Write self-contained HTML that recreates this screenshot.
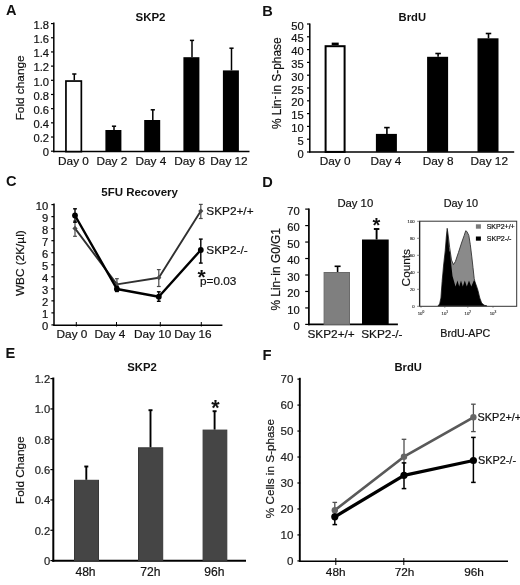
<!DOCTYPE html>
<html><head><meta charset="utf-8"><style>
html,body{margin:0;padding:0;background:#fff;}
svg{display:block;font-family:"Liberation Sans",sans-serif;will-change:transform;}
</style></head><body>
<svg width="520" height="585" viewBox="0 0 520 585">
<rect width="520" height="585" fill="#fff"/>
<text x="5.90" y="14.50" font-size="14.5" text-anchor="start" font-weight="bold" fill="#111" >A</text>
<text x="150.50" y="21.20" font-size="11.5" text-anchor="middle" font-weight="bold" fill="#111" >SKP2</text>
<line x1="53.80" y1="22.60" x2="53.80" y2="152.20" stroke="#000" stroke-width="1.5"/>
<line x1="51.00" y1="151.20" x2="53.80" y2="151.20" stroke="#000" stroke-width="1.2"/>
<text x="49.00" y="156.40" font-size="11.2" text-anchor="end" fill="#111" stroke="#111" stroke-width="0.2" >0</text>
<line x1="51.00" y1="137.02" x2="53.80" y2="137.02" stroke="#000" stroke-width="1.2"/>
<text x="49.00" y="142.22" font-size="11.2" text-anchor="end" fill="#111" stroke="#111" stroke-width="0.2" >0.2</text>
<line x1="51.00" y1="122.84" x2="53.80" y2="122.84" stroke="#000" stroke-width="1.2"/>
<text x="49.00" y="128.04" font-size="11.2" text-anchor="end" fill="#111" stroke="#111" stroke-width="0.2" >0.4</text>
<line x1="51.00" y1="108.66" x2="53.80" y2="108.66" stroke="#000" stroke-width="1.2"/>
<text x="49.00" y="113.86" font-size="11.2" text-anchor="end" fill="#111" stroke="#111" stroke-width="0.2" >0.6</text>
<line x1="51.00" y1="94.48" x2="53.80" y2="94.48" stroke="#000" stroke-width="1.2"/>
<text x="49.00" y="99.68" font-size="11.2" text-anchor="end" fill="#111" stroke="#111" stroke-width="0.2" >0.8</text>
<line x1="51.00" y1="80.30" x2="53.80" y2="80.30" stroke="#000" stroke-width="1.2"/>
<text x="49.00" y="85.50" font-size="11.2" text-anchor="end" fill="#111" stroke="#111" stroke-width="0.2" >1.0</text>
<line x1="51.00" y1="66.12" x2="53.80" y2="66.12" stroke="#000" stroke-width="1.2"/>
<text x="49.00" y="71.32" font-size="11.2" text-anchor="end" fill="#111" stroke="#111" stroke-width="0.2" >1.2</text>
<line x1="51.00" y1="51.94" x2="53.80" y2="51.94" stroke="#000" stroke-width="1.2"/>
<text x="49.00" y="57.14" font-size="11.2" text-anchor="end" fill="#111" stroke="#111" stroke-width="0.2" >1.4</text>
<line x1="51.00" y1="37.76" x2="53.80" y2="37.76" stroke="#000" stroke-width="1.2"/>
<text x="49.00" y="42.96" font-size="11.2" text-anchor="end" fill="#111" stroke="#111" stroke-width="0.2" >1.6</text>
<line x1="51.00" y1="23.58" x2="53.80" y2="23.58" stroke="#000" stroke-width="1.2"/>
<text x="49.00" y="28.78" font-size="11.2" text-anchor="end" fill="#111" stroke="#111" stroke-width="0.2" >1.8</text>
<line x1="53.10" y1="151.60" x2="249.50" y2="151.60" stroke="#000" stroke-width="1.5"/>
<rect x="65.95" y="81.05" width="15.40" height="70.55" fill="#fff" stroke="#000" stroke-width="1.7"/>
<line x1="74.30" y1="74.00" x2="74.30" y2="80.20" stroke="#000" stroke-width="1.5"/>
<line x1="72.20" y1="74.00" x2="76.40" y2="74.00" stroke="#000" stroke-width="1.5"/>
<text x="73.50" y="164.60" font-size="11.8" text-anchor="middle" fill="#111" stroke="#111" stroke-width="0.2" >Day 0</text>
<rect x="105.40" y="130.00" width="16.00" height="21.60" fill="#000" stroke="none" stroke-width="0"/>
<line x1="114.00" y1="126.20" x2="114.00" y2="130.00" stroke="#000" stroke-width="1.5"/>
<line x1="111.90" y1="126.20" x2="116.10" y2="126.20" stroke="#000" stroke-width="1.5"/>
<text x="111.90" y="164.60" font-size="11.8" text-anchor="middle" fill="#111" stroke="#111" stroke-width="0.2" >Day 2</text>
<rect x="144.20" y="120.00" width="16.00" height="31.60" fill="#000" stroke="none" stroke-width="0"/>
<line x1="152.80" y1="109.80" x2="152.80" y2="120.00" stroke="#000" stroke-width="1.5"/>
<line x1="150.70" y1="109.80" x2="154.90" y2="109.80" stroke="#000" stroke-width="1.5"/>
<text x="150.80" y="164.60" font-size="11.8" text-anchor="middle" fill="#111" stroke="#111" stroke-width="0.2" >Day 4</text>
<rect x="183.40" y="57.20" width="16.00" height="94.40" fill="#000" stroke="none" stroke-width="0"/>
<line x1="192.00" y1="40.40" x2="192.00" y2="57.20" stroke="#000" stroke-width="1.5"/>
<line x1="189.90" y1="40.40" x2="194.10" y2="40.40" stroke="#000" stroke-width="1.5"/>
<text x="189.60" y="164.60" font-size="11.8" text-anchor="middle" fill="#111" stroke="#111" stroke-width="0.2" >Day 8</text>
<rect x="222.90" y="70.40" width="16.00" height="81.20" fill="#000" stroke="none" stroke-width="0"/>
<line x1="231.50" y1="48.20" x2="231.50" y2="70.40" stroke="#000" stroke-width="1.5"/>
<line x1="229.40" y1="48.20" x2="233.60" y2="48.20" stroke="#000" stroke-width="1.5"/>
<text x="229.00" y="164.60" font-size="11.8" text-anchor="middle" fill="#111" stroke="#111" stroke-width="0.2" >Day 12</text>
<text transform="translate(23.50,87.90) rotate(-90)" x="0" y="0" font-size="11.8" text-anchor="middle" fill="#111" stroke="#111" stroke-width="0.2">Fold change</text>
<text x="262.20" y="15.60" font-size="14.6" text-anchor="start" font-weight="bold" fill="#111" >B</text>
<text x="412.30" y="20.60" font-size="11.2" text-anchor="middle" font-weight="bold" fill="#111" >BrdU</text>
<line x1="309.80" y1="23.60" x2="309.80" y2="152.60" stroke="#000" stroke-width="1.5"/>
<line x1="307.00" y1="152.00" x2="309.80" y2="152.00" stroke="#000" stroke-width="1.2"/>
<text x="303.80" y="157.50" font-size="11.2" text-anchor="end" fill="#111" stroke="#111" stroke-width="0.2" >0</text>
<line x1="307.00" y1="139.20" x2="309.80" y2="139.20" stroke="#000" stroke-width="1.2"/>
<text x="303.80" y="144.70" font-size="11.2" text-anchor="end" fill="#111" stroke="#111" stroke-width="0.2" >5</text>
<line x1="307.00" y1="126.40" x2="309.80" y2="126.40" stroke="#000" stroke-width="1.2"/>
<text x="303.80" y="131.90" font-size="11.2" text-anchor="end" fill="#111" stroke="#111" stroke-width="0.2" >10</text>
<line x1="307.00" y1="113.60" x2="309.80" y2="113.60" stroke="#000" stroke-width="1.2"/>
<text x="303.80" y="119.10" font-size="11.2" text-anchor="end" fill="#111" stroke="#111" stroke-width="0.2" >15</text>
<line x1="307.00" y1="100.80" x2="309.80" y2="100.80" stroke="#000" stroke-width="1.2"/>
<text x="303.80" y="106.30" font-size="11.2" text-anchor="end" fill="#111" stroke="#111" stroke-width="0.2" >20</text>
<line x1="307.00" y1="88.00" x2="309.80" y2="88.00" stroke="#000" stroke-width="1.2"/>
<text x="303.80" y="93.50" font-size="11.2" text-anchor="end" fill="#111" stroke="#111" stroke-width="0.2" >25</text>
<line x1="307.00" y1="75.20" x2="309.80" y2="75.20" stroke="#000" stroke-width="1.2"/>
<text x="303.80" y="80.70" font-size="11.2" text-anchor="end" fill="#111" stroke="#111" stroke-width="0.2" >30</text>
<line x1="307.00" y1="62.40" x2="309.80" y2="62.40" stroke="#000" stroke-width="1.2"/>
<text x="303.80" y="67.90" font-size="11.2" text-anchor="end" fill="#111" stroke="#111" stroke-width="0.2" >35</text>
<line x1="307.00" y1="49.60" x2="309.80" y2="49.60" stroke="#000" stroke-width="1.2"/>
<text x="303.80" y="55.10" font-size="11.2" text-anchor="end" fill="#111" stroke="#111" stroke-width="0.2" >40</text>
<line x1="307.00" y1="36.80" x2="309.80" y2="36.80" stroke="#000" stroke-width="1.2"/>
<text x="303.80" y="42.30" font-size="11.2" text-anchor="end" fill="#111" stroke="#111" stroke-width="0.2" >45</text>
<line x1="307.00" y1="24.00" x2="309.80" y2="24.00" stroke="#000" stroke-width="1.2"/>
<text x="303.80" y="29.50" font-size="11.2" text-anchor="end" fill="#111" stroke="#111" stroke-width="0.2" >50</text>
<line x1="309.10" y1="151.90" x2="514.20" y2="151.90" stroke="#000" stroke-width="1.5"/>
<rect x="325.60" y="46.20" width="19.00" height="105.70" fill="#fff" stroke="#000" stroke-width="2.0"/>
<rect x="331.70" y="42.60" width="7.00" height="2.60" fill="#000" stroke="none" stroke-width="0"/>
<text x="335.20" y="164.75" font-size="11.8" text-anchor="middle" fill="#111" stroke="#111" stroke-width="0.2" >Day 0</text>
<rect x="375.90" y="133.90" width="21.00" height="18.00" fill="#000" stroke="none" stroke-width="0"/>
<line x1="386.90" y1="127.60" x2="386.90" y2="133.90" stroke="#000" stroke-width="1.6"/>
<line x1="384.15" y1="127.60" x2="389.65" y2="127.60" stroke="#000" stroke-width="1.6"/>
<text x="386.00" y="164.75" font-size="11.8" text-anchor="middle" fill="#111" stroke="#111" stroke-width="0.2" >Day 4</text>
<rect x="427.10" y="56.80" width="21.00" height="95.10" fill="#000" stroke="none" stroke-width="0"/>
<line x1="438.10" y1="53.50" x2="438.10" y2="56.80" stroke="#000" stroke-width="1.6"/>
<line x1="435.35" y1="53.50" x2="440.85" y2="53.50" stroke="#000" stroke-width="1.6"/>
<text x="438.20" y="164.75" font-size="11.8" text-anchor="middle" fill="#111" stroke="#111" stroke-width="0.2" >Day 8</text>
<rect x="477.50" y="38.30" width="21.00" height="113.60" fill="#000" stroke="none" stroke-width="0"/>
<line x1="488.50" y1="33.50" x2="488.50" y2="38.30" stroke="#000" stroke-width="1.6"/>
<line x1="485.75" y1="33.50" x2="491.25" y2="33.50" stroke="#000" stroke-width="1.6"/>
<text x="489.30" y="164.75" font-size="11.8" text-anchor="middle" fill="#111" stroke="#111" stroke-width="0.2" >Day 12</text>
<text transform="translate(280.60,83.20) rotate(-90)" x="0" y="0" font-size="11.9" text-anchor="middle" fill="#111" stroke="#111" stroke-width="0.2">% Lin<tspan font-size="10.5" dy="-2.2">-</tspan><tspan dy="2.2" dx="1.6">in S-phase</tspan></text>
<text x="6.00" y="185.60" font-size="14.6" text-anchor="start" font-weight="bold" fill="#111" >C</text>
<text x="139.60" y="196.30" font-size="11.5" text-anchor="middle" font-weight="bold" fill="#111" >5FU Recovery</text>
<line x1="54.00" y1="203.60" x2="54.00" y2="325.80" stroke="#000" stroke-width="1.5"/>
<line x1="51.40" y1="324.90" x2="54.00" y2="324.90" stroke="#000" stroke-width="1.2"/>
<text x="48.30" y="330.20" font-size="11.2" text-anchor="end" fill="#111" stroke="#111" stroke-width="0.2" >0</text>
<line x1="51.40" y1="312.87" x2="54.00" y2="312.87" stroke="#000" stroke-width="1.2"/>
<text x="48.30" y="318.17" font-size="11.2" text-anchor="end" fill="#111" stroke="#111" stroke-width="0.2" >1</text>
<line x1="51.40" y1="300.84" x2="54.00" y2="300.84" stroke="#000" stroke-width="1.2"/>
<text x="48.30" y="306.14" font-size="11.2" text-anchor="end" fill="#111" stroke="#111" stroke-width="0.2" >2</text>
<line x1="51.40" y1="288.81" x2="54.00" y2="288.81" stroke="#000" stroke-width="1.2"/>
<text x="48.30" y="294.11" font-size="11.2" text-anchor="end" fill="#111" stroke="#111" stroke-width="0.2" >3</text>
<line x1="51.40" y1="276.78" x2="54.00" y2="276.78" stroke="#000" stroke-width="1.2"/>
<text x="48.30" y="282.08" font-size="11.2" text-anchor="end" fill="#111" stroke="#111" stroke-width="0.2" >4</text>
<line x1="51.40" y1="264.75" x2="54.00" y2="264.75" stroke="#000" stroke-width="1.2"/>
<text x="48.30" y="270.05" font-size="11.2" text-anchor="end" fill="#111" stroke="#111" stroke-width="0.2" >5</text>
<line x1="51.40" y1="252.72" x2="54.00" y2="252.72" stroke="#000" stroke-width="1.2"/>
<text x="48.30" y="258.02" font-size="11.2" text-anchor="end" fill="#111" stroke="#111" stroke-width="0.2" >6</text>
<line x1="51.40" y1="240.69" x2="54.00" y2="240.69" stroke="#000" stroke-width="1.2"/>
<text x="48.30" y="245.99" font-size="11.2" text-anchor="end" fill="#111" stroke="#111" stroke-width="0.2" >7</text>
<line x1="51.40" y1="228.66" x2="54.00" y2="228.66" stroke="#000" stroke-width="1.2"/>
<text x="48.30" y="233.96" font-size="11.2" text-anchor="end" fill="#111" stroke="#111" stroke-width="0.2" >8</text>
<line x1="51.40" y1="216.63" x2="54.00" y2="216.63" stroke="#000" stroke-width="1.2"/>
<text x="48.30" y="221.93" font-size="11.2" text-anchor="end" fill="#111" stroke="#111" stroke-width="0.2" >9</text>
<line x1="51.40" y1="204.60" x2="54.00" y2="204.60" stroke="#000" stroke-width="1.2"/>
<text x="48.30" y="209.90" font-size="11.2" text-anchor="end" fill="#111" stroke="#111" stroke-width="0.2" >10</text>
<line x1="53.30" y1="325.20" x2="222.40" y2="325.20" stroke="#000" stroke-width="1.5"/>
<line x1="76.30" y1="322.00" x2="76.30" y2="326.50" stroke="#000" stroke-width="1.0"/>
<line x1="116.50" y1="322.00" x2="116.50" y2="326.50" stroke="#000" stroke-width="1.0"/>
<line x1="160.30" y1="322.00" x2="160.30" y2="326.50" stroke="#000" stroke-width="1.0"/>
<line x1="201.30" y1="322.00" x2="201.30" y2="326.50" stroke="#000" stroke-width="1.0"/>
<polyline points="75.0,228.4 116.9,284.4 158.8,277.7 200.8,211.1" fill="none" stroke="#303030" stroke-width="1.9" stroke-linejoin="round"/>
<line x1="75.00" y1="221.00" x2="75.00" y2="236.30" stroke="#4a4a4a" stroke-width="1.2"/>
<line x1="73.10" y1="221.00" x2="76.90" y2="221.00" stroke="#4a4a4a" stroke-width="1.2"/>
<line x1="73.10" y1="236.30" x2="76.90" y2="236.30" stroke="#4a4a4a" stroke-width="1.2"/>
<line x1="116.90" y1="278.70" x2="116.90" y2="290.00" stroke="#4a4a4a" stroke-width="1.2"/>
<line x1="115.00" y1="278.70" x2="118.80" y2="278.70" stroke="#4a4a4a" stroke-width="1.2"/>
<line x1="115.00" y1="290.00" x2="118.80" y2="290.00" stroke="#4a4a4a" stroke-width="1.2"/>
<line x1="158.80" y1="269.60" x2="158.80" y2="286.50" stroke="#4a4a4a" stroke-width="1.2"/>
<line x1="156.90" y1="269.60" x2="160.70" y2="269.60" stroke="#4a4a4a" stroke-width="1.2"/>
<line x1="156.90" y1="286.50" x2="160.70" y2="286.50" stroke="#4a4a4a" stroke-width="1.2"/>
<line x1="200.80" y1="204.40" x2="200.80" y2="218.50" stroke="#4a4a4a" stroke-width="1.2"/>
<line x1="198.90" y1="204.40" x2="202.70" y2="204.40" stroke="#4a4a4a" stroke-width="1.2"/>
<line x1="198.90" y1="218.50" x2="202.70" y2="218.50" stroke="#4a4a4a" stroke-width="1.2"/>
<path d="M75.0,225.8 L77.6,228.4 L75.0,231.0 L72.4,228.4 Z" fill="#4a4a4a"/>
<path d="M116.9,281.8 L119.5,284.4 L116.9,287.0 L114.3,284.4 Z" fill="#4a4a4a"/>
<path d="M158.8,275.1 L161.4,277.7 L158.8,280.3 L156.2,277.7 Z" fill="#4a4a4a"/>
<path d="M200.8,208.5 L203.4,211.1 L200.8,213.7 L198.2,211.1 Z" fill="#4a4a4a"/>
<polyline points="75.0,215.5 116.9,289.0 158.8,296.7 200.8,250.0" fill="none" stroke="#000" stroke-width="2.4" stroke-linejoin="round"/>
<line x1="75.00" y1="208.80" x2="75.00" y2="222.20" stroke="#000" stroke-width="1.4"/>
<line x1="73.10" y1="208.80" x2="76.90" y2="208.80" stroke="#000" stroke-width="1.4"/>
<line x1="73.10" y1="222.20" x2="76.90" y2="222.20" stroke="#000" stroke-width="1.4"/>
<line x1="116.90" y1="286.50" x2="116.90" y2="291.50" stroke="#000" stroke-width="1.4"/>
<line x1="115.00" y1="286.50" x2="118.80" y2="286.50" stroke="#000" stroke-width="1.4"/>
<line x1="115.00" y1="291.50" x2="118.80" y2="291.50" stroke="#000" stroke-width="1.4"/>
<line x1="158.80" y1="291.80" x2="158.80" y2="301.30" stroke="#000" stroke-width="1.4"/>
<line x1="156.90" y1="291.80" x2="160.70" y2="291.80" stroke="#000" stroke-width="1.4"/>
<line x1="156.90" y1="301.30" x2="160.70" y2="301.30" stroke="#000" stroke-width="1.4"/>
<line x1="200.80" y1="239.10" x2="200.80" y2="263.10" stroke="#000" stroke-width="1.4"/>
<line x1="198.90" y1="239.10" x2="202.70" y2="239.10" stroke="#000" stroke-width="1.4"/>
<line x1="198.90" y1="263.10" x2="202.70" y2="263.10" stroke="#000" stroke-width="1.4"/>
<circle cx="75.0" cy="215.5" r="2.9" fill="#000"/>
<circle cx="116.9" cy="289.0" r="2.9" fill="#000"/>
<circle cx="158.8" cy="296.7" r="2.9" fill="#000"/>
<circle cx="200.8" cy="250.0" r="2.9" fill="#000"/>
<text x="206.30" y="215.20" font-size="11.8" text-anchor="start" fill="#111" stroke="#111" stroke-width="0.2" >SKP2+/+</text>
<text x="206.30" y="253.50" font-size="11.8" text-anchor="start" fill="#111" stroke="#111" stroke-width="0.2" >SKP2-/-</text>
<text x="201.50" y="283.80" font-size="21" text-anchor="middle" font-weight="bold" fill="#111" >*</text>
<text x="200.00" y="285.40" font-size="11.8" text-anchor="start" fill="#111" stroke="#111" stroke-width="0.2" >p=0.03</text>
<text x="72.00" y="338.00" font-size="11.8" text-anchor="middle" fill="#111" stroke="#111" stroke-width="0.2" >Day 0</text>
<text x="109.90" y="338.00" font-size="11.8" text-anchor="middle" fill="#111" stroke="#111" stroke-width="0.2" >Day 4</text>
<text x="152.70" y="338.00" font-size="11.8" text-anchor="middle" fill="#111" stroke="#111" stroke-width="0.2" >Day 10</text>
<text x="193.00" y="338.00" font-size="11.8" text-anchor="middle" fill="#111" stroke="#111" stroke-width="0.2" >Day 16</text>
<text transform="translate(24.40,263.20) rotate(-90)" x="0" y="0" font-size="11.8" text-anchor="middle" fill="#111" stroke="#111" stroke-width="0.2">WBC (2K/µl)</text>
<text x="262.20" y="187.10" font-size="14.6" text-anchor="start" font-weight="bold" fill="#111" >D</text>
<line x1="308.90" y1="208.60" x2="308.90" y2="325.20" stroke="#000" stroke-width="1.7"/>
<line x1="305.20" y1="324.40" x2="308.90" y2="324.40" stroke="#000" stroke-width="1.2"/>
<text x="299.80" y="330.20" font-size="11.2" text-anchor="end" fill="#111" stroke="#111" stroke-width="0.2" >0</text>
<line x1="305.20" y1="307.93" x2="308.90" y2="307.93" stroke="#000" stroke-width="1.2"/>
<text x="299.80" y="313.73" font-size="11.2" text-anchor="end" fill="#111" stroke="#111" stroke-width="0.2" >10</text>
<line x1="305.20" y1="291.46" x2="308.90" y2="291.46" stroke="#000" stroke-width="1.2"/>
<text x="299.80" y="297.26" font-size="11.2" text-anchor="end" fill="#111" stroke="#111" stroke-width="0.2" >20</text>
<line x1="305.20" y1="274.99" x2="308.90" y2="274.99" stroke="#000" stroke-width="1.2"/>
<text x="299.80" y="280.79" font-size="11.2" text-anchor="end" fill="#111" stroke="#111" stroke-width="0.2" >30</text>
<line x1="305.20" y1="258.52" x2="308.90" y2="258.52" stroke="#000" stroke-width="1.2"/>
<text x="299.80" y="264.32" font-size="11.2" text-anchor="end" fill="#111" stroke="#111" stroke-width="0.2" >40</text>
<line x1="305.20" y1="242.05" x2="308.90" y2="242.05" stroke="#000" stroke-width="1.2"/>
<text x="299.80" y="247.85" font-size="11.2" text-anchor="end" fill="#111" stroke="#111" stroke-width="0.2" >50</text>
<line x1="305.20" y1="225.58" x2="308.90" y2="225.58" stroke="#000" stroke-width="1.2"/>
<text x="299.80" y="231.38" font-size="11.2" text-anchor="end" fill="#111" stroke="#111" stroke-width="0.2" >60</text>
<line x1="305.20" y1="209.11" x2="308.90" y2="209.11" stroke="#000" stroke-width="1.2"/>
<text x="299.80" y="214.91" font-size="11.2" text-anchor="end" fill="#111" stroke="#111" stroke-width="0.2" >70</text>
<line x1="308.10" y1="324.40" x2="397.90" y2="324.40" stroke="#000" stroke-width="1.6"/>
<rect x="324.10" y="272.50" width="25.40" height="51.90" fill="#7f7f7f" stroke="#6a6a6a" stroke-width="1.0"/>
<line x1="337.60" y1="266.30" x2="337.60" y2="272.00" stroke="#000" stroke-width="1.6"/>
<line x1="334.60" y1="266.30" x2="340.60" y2="266.30" stroke="#000" stroke-width="1.6"/>
<rect x="362.00" y="239.50" width="26.70" height="84.90" fill="#000" stroke="none" stroke-width="0"/>
<line x1="376.60" y1="229.00" x2="376.60" y2="239.50" stroke="#000" stroke-width="1.9"/>
<line x1="373.85" y1="229.00" x2="379.35" y2="229.00" stroke="#000" stroke-width="1.9"/>
<text x="376.50" y="232.10" font-size="20" text-anchor="middle" font-weight="bold" fill="#111" >*</text>
<text x="355.30" y="207.30" font-size="11.3" text-anchor="middle" fill="#111" stroke="#111" stroke-width="0.2" >Day 10</text>
<text x="331.10" y="338.20" font-size="11.8" text-anchor="middle" fill="#111" stroke="#111" stroke-width="0.2" >SKP2+/+</text>
<text x="381.90" y="338.20" font-size="11.8" text-anchor="middle" fill="#111" stroke="#111" stroke-width="0.2" >SKP2-/-</text>
<text transform="translate(280.40,269.30) rotate(-90)" x="0" y="0" font-size="11.9" text-anchor="middle" fill="#111" stroke="#111" stroke-width="0.2">% Lin<tspan font-size="10.5" dy="-2.2">-</tspan><tspan dy="2.2" dx="1.6">in G0/G1</tspan></text>
<text x="460.90" y="207.20" font-size="10.9" text-anchor="middle" fill="#111" stroke="#111" stroke-width="0.2" >Day 10</text>
<text transform="translate(409.80,267.70) rotate(-90)" x="0" y="0" font-size="11.8" text-anchor="middle" fill="#111" stroke="#111" stroke-width="0.2">Counts</text>
<text x="465.30" y="337.40" font-size="10.7" text-anchor="middle" fill="#111" stroke="#111" stroke-width="0.2" >BrdU-APC</text>
<path d="M438.0,305.8 L439.6,304 L440.9,298 L442.1,281.5 L443.6,265 L445.2,250.8 L446.3,237 L447.2,228.3 L448.3,236 L449.7,247.7 L451.5,260 L453.4,264.6 L455.4,261.5 L458.5,252.3 L461.5,243 L464.2,235.4 L465.7,230.8 L466.9,231.5 L468.8,235.4 L470.3,244.6 L471.8,256.9 L473,267.7 L474.2,278.5 L475,282 L476.5,286 L478,290.5 L479.8,298 L481.7,303 L484.2,305.2 L486.8,305.8 Z" fill="#8a8a8a" stroke="#333" stroke-width="0.9" stroke-linejoin="round"/>
<path d="M438.2,305.8 L439.8,304 L441.1,298 L442.3,281.5 L443.8,265 L445.4,250.8 L446.5,237 L447.2,228.5 L448.2,238 L449.2,250.8 L450,252 L451.3,265 L452.5,276 L453.8,280.5 L455.5,286.5 L457.5,280.5 L459.2,286.5 L461,280.5 L462.8,286.5 L464.8,280.5 L466.8,286.5 L469,280.5 L471.3,286.5 L473.8,280.5 L474.8,281 L476.3,286 L477.8,290.5 L479.6,298 L481.5,303 L484,305.2 L486.5,305.8 Z" fill="#000"/>
<rect x="419.6" y="221.2" width="97.1" height="85.1" fill="none" stroke="#333" stroke-width="1.0"/>
<line x1="419.60" y1="221.20" x2="419.60" y2="306.30" stroke="#222" stroke-width="1.3"/>
<line x1="417.10" y1="306.30" x2="419.60" y2="306.30" stroke="#555" stroke-width="0.7"/>
<text x="414.60" y="307.70" font-size="4.2" text-anchor="end" fill="#333" stroke="#333" stroke-width="0.15" >0</text>
<line x1="417.10" y1="289.30" x2="419.60" y2="289.30" stroke="#555" stroke-width="0.7"/>
<text x="414.60" y="290.70" font-size="4.2" text-anchor="end" fill="#333" stroke="#333" stroke-width="0.15" >20</text>
<line x1="417.10" y1="272.30" x2="419.60" y2="272.30" stroke="#555" stroke-width="0.7"/>
<text x="414.60" y="273.70" font-size="4.2" text-anchor="end" fill="#333" stroke="#333" stroke-width="0.15" >40</text>
<line x1="417.10" y1="255.30" x2="419.60" y2="255.30" stroke="#555" stroke-width="0.7"/>
<text x="414.60" y="256.70" font-size="4.2" text-anchor="end" fill="#333" stroke="#333" stroke-width="0.15" >60</text>
<line x1="417.10" y1="238.30" x2="419.60" y2="238.30" stroke="#555" stroke-width="0.7"/>
<text x="414.60" y="239.70" font-size="4.2" text-anchor="end" fill="#333" stroke="#333" stroke-width="0.15" >80</text>
<line x1="417.10" y1="221.30" x2="419.60" y2="221.30" stroke="#555" stroke-width="0.7"/>
<text x="414.60" y="222.70" font-size="4.2" text-anchor="end" fill="#333" stroke="#333" stroke-width="0.15" >100</text>
<line x1="421.00" y1="306.30" x2="421.00" y2="307.80" stroke="#444" stroke-width="0.6"/>
<text x="421.00" y="315.00" font-size="4.3" text-anchor="middle" fill="#333" stroke="#333" stroke-width="0.15" >10<tspan font-size="3.2" dy="-2.4">0</tspan></text>
<line x1="444.80" y1="306.30" x2="444.80" y2="307.80" stroke="#444" stroke-width="0.6"/>
<text x="444.80" y="315.00" font-size="4.3" text-anchor="middle" fill="#333" stroke="#333" stroke-width="0.15" >10<tspan font-size="3.2" dy="-2.4">1</tspan></text>
<line x1="467.80" y1="306.30" x2="467.80" y2="307.80" stroke="#444" stroke-width="0.6"/>
<text x="467.80" y="315.00" font-size="4.3" text-anchor="middle" fill="#333" stroke="#333" stroke-width="0.15" >10<tspan font-size="3.2" dy="-2.4">2</tspan></text>
<line x1="493.00" y1="306.30" x2="493.00" y2="307.80" stroke="#444" stroke-width="0.6"/>
<text x="493.00" y="315.00" font-size="4.3" text-anchor="middle" fill="#333" stroke="#333" stroke-width="0.15" >10<tspan font-size="3.2" dy="-2.4">3</tspan></text>
<rect x="475.90" y="224.30" width="5.00" height="4.40" fill="#7a7a7a" stroke="none" stroke-width="0"/>
<rect x="475.90" y="236.50" width="5.00" height="4.20" fill="#000" stroke="none" stroke-width="0"/>
<text x="486.70" y="228.90" font-size="6.6" text-anchor="start" fill="#111" stroke="#111" stroke-width="0.2" textLength="28" lengthAdjust="spacingAndGlyphs">SKP2+/+</text>
<text x="486.70" y="241.30" font-size="6.6" text-anchor="start" fill="#111" stroke="#111" stroke-width="0.2" textLength="24.8" lengthAdjust="spacingAndGlyphs">SKP2-/-</text>
<text x="5.60" y="358.40" font-size="14.6" text-anchor="start" font-weight="bold" fill="#111" >E</text>
<text x="142.10" y="370.60" font-size="11.3" text-anchor="middle" font-weight="bold" fill="#111" >SKP2</text>
<line x1="53.30" y1="377.50" x2="53.30" y2="561.80" stroke="#000" stroke-width="2.0"/>
<line x1="50.40" y1="560.60" x2="53.00" y2="560.60" stroke="#000" stroke-width="1.2"/>
<text x="50.20" y="564.90" font-size="11.2" text-anchor="end" fill="#222" stroke="#222" stroke-width="0.2" >0</text>
<line x1="50.40" y1="530.27" x2="53.00" y2="530.27" stroke="#000" stroke-width="1.2"/>
<text x="50.20" y="534.57" font-size="11.2" text-anchor="end" fill="#222" stroke="#222" stroke-width="0.2" >0.2</text>
<line x1="50.40" y1="499.93" x2="53.00" y2="499.93" stroke="#000" stroke-width="1.2"/>
<text x="50.20" y="504.23" font-size="11.2" text-anchor="end" fill="#222" stroke="#222" stroke-width="0.2" >0.4</text>
<line x1="50.40" y1="469.60" x2="53.00" y2="469.60" stroke="#000" stroke-width="1.2"/>
<text x="50.20" y="473.90" font-size="11.2" text-anchor="end" fill="#222" stroke="#222" stroke-width="0.2" >0.6</text>
<line x1="50.40" y1="439.26" x2="53.00" y2="439.26" stroke="#000" stroke-width="1.2"/>
<text x="50.20" y="443.56" font-size="11.2" text-anchor="end" fill="#222" stroke="#222" stroke-width="0.2" >0.8</text>
<line x1="50.40" y1="408.93" x2="53.00" y2="408.93" stroke="#000" stroke-width="1.2"/>
<text x="50.20" y="413.23" font-size="11.2" text-anchor="end" fill="#222" stroke="#222" stroke-width="0.2" >1.0</text>
<line x1="50.40" y1="378.60" x2="53.00" y2="378.60" stroke="#000" stroke-width="1.2"/>
<text x="50.20" y="382.90" font-size="11.2" text-anchor="end" fill="#222" stroke="#222" stroke-width="0.2" >1.2</text>
<line x1="52.30" y1="560.80" x2="246.00" y2="560.80" stroke="#000" stroke-width="2.0"/>
<rect x="74.50" y="480.30" width="24.00" height="80.50" fill="#454545" stroke="#383838" stroke-width="1.0"/>
<line x1="86.30" y1="466.50" x2="86.30" y2="479.80" stroke="#000" stroke-width="1.9"/>
<line x1="84.30" y1="466.50" x2="88.30" y2="466.50" stroke="#000" stroke-width="1.9"/>
<text x="85.50" y="575.80" font-size="12.1" text-anchor="middle" fill="#111" stroke="#111" stroke-width="0.2" >48h</text>
<rect x="138.50" y="447.80" width="24.20" height="113.00" fill="#454545" stroke="#383838" stroke-width="1.0"/>
<line x1="150.50" y1="410.20" x2="150.50" y2="447.30" stroke="#000" stroke-width="1.9"/>
<line x1="148.50" y1="410.20" x2="152.50" y2="410.20" stroke="#000" stroke-width="1.9"/>
<text x="150.40" y="575.80" font-size="12.1" text-anchor="middle" fill="#111" stroke="#111" stroke-width="0.2" >72h</text>
<rect x="203.10" y="430.10" width="23.70" height="130.70" fill="#454545" stroke="#383838" stroke-width="1.0"/>
<line x1="214.60" y1="411.20" x2="214.60" y2="429.60" stroke="#000" stroke-width="1.9"/>
<line x1="212.60" y1="411.20" x2="216.60" y2="411.20" stroke="#000" stroke-width="1.9"/>
<text x="214.30" y="575.80" font-size="12.1" text-anchor="middle" fill="#111" stroke="#111" stroke-width="0.2" >96h</text>
<text x="215.40" y="415.10" font-size="21.5" text-anchor="middle" font-weight="bold" fill="#111" >*</text>
<text transform="translate(24.30,470.20) rotate(-90)" x="0" y="0" font-size="11.8" text-anchor="middle" fill="#111" stroke="#111" stroke-width="0.2">Fold Change</text>
<text x="262.50" y="359.60" font-size="14.8" text-anchor="start" font-weight="bold" fill="#111" >F</text>
<text x="408.20" y="370.60" font-size="11.2" text-anchor="middle" font-weight="bold" fill="#111" >BrdU</text>
<line x1="299.80" y1="377.80" x2="299.80" y2="562.00" stroke="#000" stroke-width="1.9"/>
<line x1="297.40" y1="560.90" x2="300.20" y2="560.90" stroke="#000" stroke-width="1.2"/>
<text x="293.40" y="564.60" font-size="11.6" text-anchor="end" fill="#222" stroke="#222" stroke-width="0.2" >0</text>
<line x1="297.40" y1="534.93" x2="300.20" y2="534.93" stroke="#000" stroke-width="1.2"/>
<text x="293.40" y="538.63" font-size="11.6" text-anchor="end" fill="#222" stroke="#222" stroke-width="0.2" >10</text>
<line x1="297.40" y1="508.96" x2="300.20" y2="508.96" stroke="#000" stroke-width="1.2"/>
<text x="293.40" y="512.66" font-size="11.6" text-anchor="end" fill="#222" stroke="#222" stroke-width="0.2" >20</text>
<line x1="297.40" y1="482.99" x2="300.20" y2="482.99" stroke="#000" stroke-width="1.2"/>
<text x="293.40" y="486.69" font-size="11.6" text-anchor="end" fill="#222" stroke="#222" stroke-width="0.2" >30</text>
<line x1="297.40" y1="457.02" x2="300.20" y2="457.02" stroke="#000" stroke-width="1.2"/>
<text x="293.40" y="460.72" font-size="11.6" text-anchor="end" fill="#222" stroke="#222" stroke-width="0.2" >40</text>
<line x1="297.40" y1="431.05" x2="300.20" y2="431.05" stroke="#000" stroke-width="1.2"/>
<text x="293.40" y="434.75" font-size="11.6" text-anchor="end" fill="#222" stroke="#222" stroke-width="0.2" >50</text>
<line x1="297.40" y1="405.08" x2="300.20" y2="405.08" stroke="#000" stroke-width="1.2"/>
<text x="293.40" y="408.78" font-size="11.6" text-anchor="end" fill="#222" stroke="#222" stroke-width="0.2" >60</text>
<line x1="297.40" y1="379.11" x2="300.20" y2="379.11" stroke="#000" stroke-width="1.2"/>
<text x="293.40" y="382.81" font-size="11.6" text-anchor="end" fill="#222" stroke="#222" stroke-width="0.2" >70</text>
<line x1="299.40" y1="561.20" x2="508.00" y2="561.20" stroke="#000" stroke-width="1.6"/>
<line x1="335.80" y1="558.00" x2="335.80" y2="565.00" stroke="#000" stroke-width="1.0"/>
<line x1="403.80" y1="558.00" x2="403.80" y2="565.00" stroke="#000" stroke-width="1.0"/>
<polyline points="334.8,510.2 404.0,456.7 473.4,417.3" fill="none" stroke="#595959" stroke-width="2.7" stroke-linejoin="round"/>
<line x1="334.80" y1="502.40" x2="334.80" y2="518.00" stroke="#505050" stroke-width="1.3"/>
<line x1="332.50" y1="502.40" x2="337.10" y2="502.40" stroke="#505050" stroke-width="1.3"/>
<line x1="332.50" y1="518.00" x2="337.10" y2="518.00" stroke="#505050" stroke-width="1.3"/>
<line x1="404.00" y1="439.30" x2="404.00" y2="474.00" stroke="#505050" stroke-width="1.3"/>
<line x1="401.70" y1="439.30" x2="406.30" y2="439.30" stroke="#505050" stroke-width="1.3"/>
<line x1="401.70" y1="474.00" x2="406.30" y2="474.00" stroke="#505050" stroke-width="1.3"/>
<line x1="473.40" y1="404.20" x2="473.40" y2="431.60" stroke="#505050" stroke-width="1.3"/>
<line x1="471.10" y1="404.20" x2="475.70" y2="404.20" stroke="#505050" stroke-width="1.3"/>
<line x1="471.10" y1="431.60" x2="475.70" y2="431.60" stroke="#505050" stroke-width="1.3"/>
<circle cx="334.8" cy="510.2" r="3.2" fill="#666"/>
<circle cx="404.0" cy="456.7" r="3.2" fill="#666"/>
<circle cx="473.4" cy="417.3" r="3.2" fill="#666"/>
<polyline points="334.8,516.8 404.0,475.3 473.4,460.5" fill="none" stroke="#000" stroke-width="3.3" stroke-linejoin="round"/>
<line x1="334.80" y1="514.50" x2="334.80" y2="524.60" stroke="#000" stroke-width="1.5"/>
<line x1="332.50" y1="514.50" x2="337.10" y2="514.50" stroke="#000" stroke-width="1.5"/>
<line x1="332.50" y1="524.60" x2="337.10" y2="524.60" stroke="#000" stroke-width="1.5"/>
<line x1="404.00" y1="462.90" x2="404.00" y2="488.60" stroke="#000" stroke-width="1.5"/>
<line x1="401.70" y1="462.90" x2="406.30" y2="462.90" stroke="#000" stroke-width="1.5"/>
<line x1="401.70" y1="488.60" x2="406.30" y2="488.60" stroke="#000" stroke-width="1.5"/>
<line x1="473.40" y1="437.40" x2="473.40" y2="482.40" stroke="#000" stroke-width="1.5"/>
<line x1="471.10" y1="437.40" x2="475.70" y2="437.40" stroke="#000" stroke-width="1.5"/>
<line x1="471.10" y1="482.40" x2="475.70" y2="482.40" stroke="#000" stroke-width="1.5"/>
<circle cx="334.8" cy="516.8" r="3.6" fill="#000"/>
<circle cx="404.0" cy="475.3" r="3.6" fill="#000"/>
<circle cx="473.4" cy="460.5" r="3.6" fill="#000"/>
<text x="477.60" y="421.20" font-size="10.9" text-anchor="start" fill="#111" stroke="#111" stroke-width="0.2" >SKP2+/+</text>
<text x="477.90" y="464.20" font-size="10.9" text-anchor="start" fill="#111" stroke="#111" stroke-width="0.2" >SKP2-/-</text>
<text x="335.70" y="576.00" font-size="11.8" text-anchor="middle" fill="#111" stroke="#111" stroke-width="0.2" >48h</text>
<text x="404.60" y="576.00" font-size="11.8" text-anchor="middle" fill="#111" stroke="#111" stroke-width="0.2" >72h</text>
<text x="474.10" y="576.00" font-size="11.8" text-anchor="middle" fill="#111" stroke="#111" stroke-width="0.2" >96h</text>
<text transform="translate(274.00,468.60) rotate(-90)" x="0" y="0" font-size="11.75" text-anchor="middle" fill="#111" stroke="#111" stroke-width="0.2">% Cells in S-phase</text>
</svg>
</body></html>
